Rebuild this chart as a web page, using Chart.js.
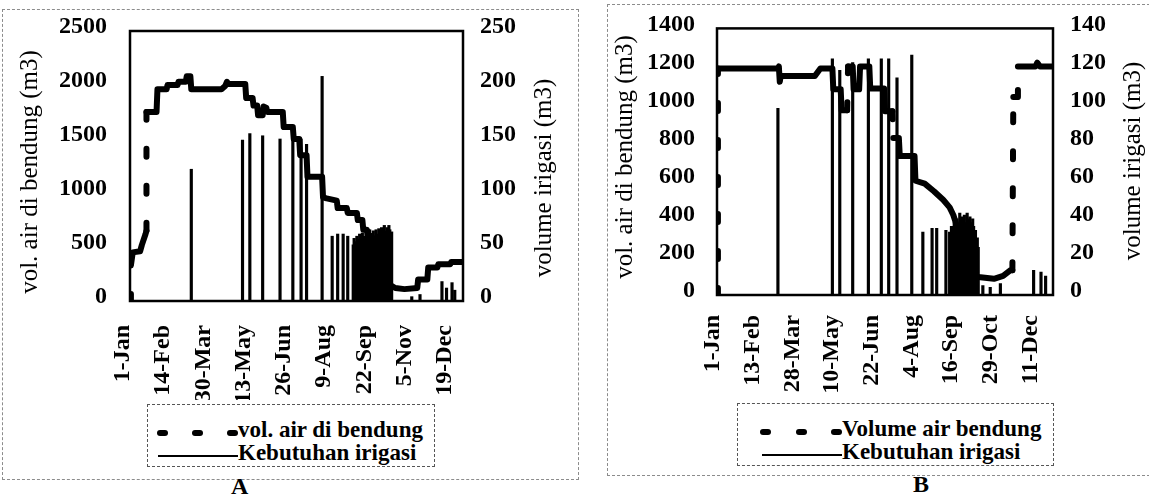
<!DOCTYPE html>
<html>
<head>
<meta charset="utf-8">
<script src="https://cdn.jsdelivr.net/npm/chart.js@4.4.0/dist/chart.umd.min.js"></script>
<style>
  html, body { margin: 0; padding: 0; background: #fff; }
  body { width: 1149px; height: 499px; position: relative; overflow: hidden;
         font-family: "Liberation Serif", "Times New Roman", serif; color: #000; }
  .frame { position: absolute; border: 1px dashed #8c8c8c; }
  .wrap { position: absolute; }
  .legend { position: absolute; border: 1px dashed #555; font-weight: bold; font-size: 23px; line-height: 26px; }
  .legend .txt { position: absolute; white-space: nowrap; }
  .legend .dash { position: absolute; width: 11px; height: 6px; background: #000; border-radius: 3px; }
  .legend .solid { position: absolute; height: 2px; background: #000; }
  .letter { position: absolute; font-weight: bold; font-size: 24px; }
</style>
</head>
<body>
<div class="frame" style="left:2px;top:9px;width:575px;height:469px"></div>
<div class="frame" style="left:607px;top:4px;width:541px;height:470px"></div>

<div class="wrap" style="left:0;top:0;width:577px;height:400px"><canvas id="chartA"></canvas></div>
<div class="wrap" style="left:607px;top:0;width:542px;height:400px"><canvas id="chartB"></canvas></div>

<div class="legend" style="left:147px;top:404px;width:286px;height:61px">
  <div class="dash" style="left:9px;top:25px"></div>
  <div class="dash" style="left:44px;top:25px"></div>
  <div class="dash" style="left:79px;top:25px"></div>
  <div class="txt" style="left:90px;top:12px">vol. air di bendung</div>
  <div class="solid" style="left:10px;top:50px;width:80px"></div>
  <div class="txt" style="left:90px;top:35px">Kebutuhan irigasi</div>
</div>
<div class="legend" style="left:737px;top:403px;width:315px;height:61px">
  <div class="dash" style="left:22px;top:25px"></div>
  <div class="dash" style="left:58px;top:25px"></div>
  <div class="dash" style="left:93px;top:25px"></div>
  <div class="txt" style="left:104px;top:12px">Volume air bendung</div>
  <div class="solid" style="left:24px;top:50px;width:80px"></div>
  <div class="txt" style="left:104px;top:35px">Kebutuhan irigasi</div>
</div>
<div class="letter" style="left:231px;top:473px">A</div>
<div class="letter" style="left:913px;top:471px">B</div>

<script>
// ---- Panel A ----
const labelsA = ['1-Jan', '14-Feb', '30-Mar', '13-May', '26-Jun', '9-Aug', '22-Sep', '5-Nov', '19-Dec'];
const stepA = 44;
const volDaysA = [0, 1, 3, 11, 13, 17, 18, 18, 29, 30, 40, 41, 52, 53, 61, 62, 66, 67, 100, 104, 106, 107, 126, 127, 134, 135, 139, 140, 145, 146, 149, 150, 167, 168, 178, 179, 185, 186, 193, 194, 210, 211, 215, 226, 227, 237, 238, 248, 249, 254, 255, 259, 260, 264, 268, 272, 276, 280, 284, 290, 300, 314, 315, 325, 326, 336, 337, 350, 351, 364];
const volA = [0, 330, 450, 460, 520, 620, 650, 1750, 1750, 1960, 1960, 2000, 2000, 2030, 2030, 2080, 2080, 1960, 1960, 1990, 2030, 2010, 2010, 1880, 1880, 1810, 1810, 1720, 1720, 1800, 1790, 1750, 1750, 1610, 1610, 1500, 1500, 1350, 1350, 1150, 1150, 960, 950, 930, 860, 860, 815, 815, 750, 750, 660, 660, 610, 600, 540, 430, 300, 200, 150, 120, 110, 120, 200, 200, 310, 310, 340, 340, 360, 360];
const irrDaysA = [67, 123, 131, 145, 164, 178, 187, 193, 210, 221, 227, 233, 238,
  244, 245, 246, 247, 248, 249, 250, 251, 252, 253, 254, 255, 256, 257, 258, 259, 260, 261, 262, 263, 264, 265,
  266, 267, 268, 269, 270, 271, 272, 273, 274, 275, 276, 277, 278, 279, 280, 281, 282, 283, 284, 285, 286,
  308, 317, 341, 346, 352, 355];
const irrA = [122, 149, 155, 153, 150, 155, 150, 145, 208, 60, 62, 62, 60,
  52, 58, 40, 55, 60, 45, 57, 62, 50, 58, 63, 48, 60, 55, 64, 52, 61, 58, 66, 50, 62, 57,
  65, 60, 54, 66, 62, 58, 67, 63, 55, 68, 60, 64, 70, 58, 65, 68, 62, 70, 66, 60, 64,
  4, 6, 18, 12, 17, 10];

// ---- Panel B ----
const labelsB = ['1-Jan', '13-Feb', '28-Mar', '10-May', '22-Jun', '4-Aug', '16-Sep', '29-Oct', '11-Dec'];
const stepB = 43;
const volDaysB = [0, 1, 66, 67, 68, 69, 106, 112, 125, 126, 134, 135, 141, 142, 147, 148, 154, 155, 165, 166, 181, 182, 190, 191, 197, 198, 214, 215, 225, 235, 245, 252, 256, 260, 264, 268, 272, 277, 283, 300, 310, 318, 320, 321, 325, 326, 345, 347, 350, 364];
const volB = [0, 1190, 1190, 1200, 1120, 1150, 1150, 1190, 1190, 1080, 1080, 970, 970, 1200, 1200, 1080, 1080, 1200, 1200, 1085, 1085, 965, 965, 825, 825, 730, 730, 600, 585, 545, 500, 460, 420, 360, 290, 210, 150, 110, 95, 85, 100, 130, 130, 1040, 1040, 1200, 1200, 1220, 1200, 1200];
const irrDaysB = [66, 125, 133, 147, 164, 178, 186, 195, 211, 223, 233, 238, 248,
  252, 253, 254, 255, 256, 257, 258, 259, 260, 261, 262, 263, 264, 265, 266, 267, 268, 269, 270, 271,
  272, 273, 274, 275, 276, 277, 278, 279, 280, 281, 282, 283,
  288, 296, 307, 343, 351, 356];
const irrB = [98, 124, 118, 122, 124, 124, 124, 114, 126, 33, 35, 35, 34,
  33, 30, 36, 28, 34, 38, 31, 35, 40, 33, 37, 43, 35, 39, 41, 34, 42, 38, 36, 43,
  40, 35, 41, 38, 33, 40, 36, 31, 34, 28, 30, 25,
  5, 4, 6, 13, 12, 10];

const serif = '"Liberation Serif", "Times New Roman", serif';
const pts = (xs, ys) => xs.map((x, i) => ({ x, y: ys[i] }));

// plot box drawn round the chart area
const plotFrame = {
  id: 'plotFrame',
  afterDatasetsDraw(chart) {
    const { ctx, chartArea: a } = chart;
    ctx.save();
    ctx.lineWidth = 2.5;
    ctx.strokeStyle = '#000';
    ctx.strokeRect(a.left, a.top, a.width, a.height);
    ctx.restore();
  },
};

// both axis titles read bottom-to-top
const axisTitles = {
  id: 'axisTitles',
  afterDraw(chart, args, opts) {
    const { ctx } = chart;
    ctx.save();
    ctx.font = `25px ${serif}`;
    ctx.fillStyle = '#000';
    ctx.textAlign = 'center';
    ctx.textBaseline = 'middle';
    opts.items.forEach(t => {
      ctx.save();
      ctx.translate(t.x, t.y);
      ctx.rotate(-Math.PI / 2);
      ctx.fillText(t.text, 0, 0);
      ctx.restore();
    });
    ctx.restore();
  },
};

function panel(id, o) {
  const tickFont = { family: serif, size: 24, weight: 'bold' };
  const yTicks = (step, pad) => ({
    stepSize: step, padding: pad, labelOffset: -4, color: '#000', font: tickFont,
    callback: v => String(v),
  });
  return new Chart(document.getElementById(id), {
    data: {
      datasets: [
        {
          type: 'line', label: o.volLabel, data: pts(o.volDays, o.vol), yAxisID: 'y',
          borderColor: '#000', borderWidth: 6, borderCapStyle: 'round', borderJoinStyle: 'round',
          pointRadius: 0, tension: 0, order: 0,
          segment: { borderDash: c => (Math.abs(c.p1.y - c.p0.y) > 25 ? [8, 29] : undefined) },
        },
        {
          type: 'bar', label: 'Kebutuhan irigasi', data: pts(o.irrDays, o.irr), yAxisID: 'y1',
          backgroundColor: '#000', barThickness: 2.5, order: 1,
        },
      ],
    },
    options: {
      animation: false, responsive: true, maintainAspectRatio: false,
      layout: { padding: { top: o.top, bottom: 0, left: 0, right: 0 } },
      plugins: {
        legend: { display: false }, tooltip: { enabled: false },
        axisTitles: { items: o.titles },
      },
      scales: {
        x: {
          type: 'linear', min: 0, max: 364, offset: false,
          afterBuildTicks: s => { s.ticks = o.labels.map((_, i) => ({ value: i * o.step })); },
          afterFit: s => { s.height = o.xHeight; },
          ticks: {
            autoSkip: false, minRotation: 90, maxRotation: 90, padding: o.xPad, labelOffset: o.xShift,
            color: '#000', font: tickFont, callback: v => o.labels[Math.round(v / o.step)],
          },
          grid: { display: false }, border: { display: false },
        },
        y: {
          position: 'left', min: 0, max: o.yMax,
          afterFit: s => { s.width = o.leftW; },
          ticks: yTicks(o.yStep, o.yPad),
          grid: { display: false }, border: { display: false },
        },
        y1: {
          position: 'right', min: 0, max: o.y1Max,
          afterFit: s => { s.width = o.rightW; },
          ticks: yTicks(o.y1Step, o.y1Pad),
          grid: { display: false }, border: { display: false },
        },
      },
    },
    plugins: [plotFrame, axisTitles],
  });
}

panel('chartA', {
  labels: labelsA, step: stepA, volDays: volDaysA, vol: volA, irrDays: irrDaysA, irr: irrA,
  volLabel: 'vol. air di bendung', yMax: 2500, yStep: 500, y1Max: 250, y1Step: 50,
  top: 31, xHeight: 99, leftW: 130, rightW: 114, yPad: 15, y1Pad: 9, xPad: 16, xShift: -7,
  titles: [
    { text: 'vol. air di bendung (m3)', x: 30, y: 172 },
    { text: 'volume irigasi (m3)', x: 544, y: 178 },
  ],
});

panel('chartB', {
  labels: labelsB, step: stepB, volDays: volDaysB, vol: volB, irrDays: irrDaysB, irr: irrB,
  volLabel: 'Volume air bendung', yMax: 1400, yStep: 200, y1Max: 140, y1Step: 20,
  top: 27, xHeight: 105, leftW: 110, rightW: 96, yPad: 14, y1Pad: 9, xPad: 12, xShift: -4,
  titles: [
    { text: 'vol. air di bendung (m3)', x: 18, y: 157 },
    { text: 'volume irigasi (m3)', x: 526, y: 161 },
  ],
});
</script>
</body>
</html>
